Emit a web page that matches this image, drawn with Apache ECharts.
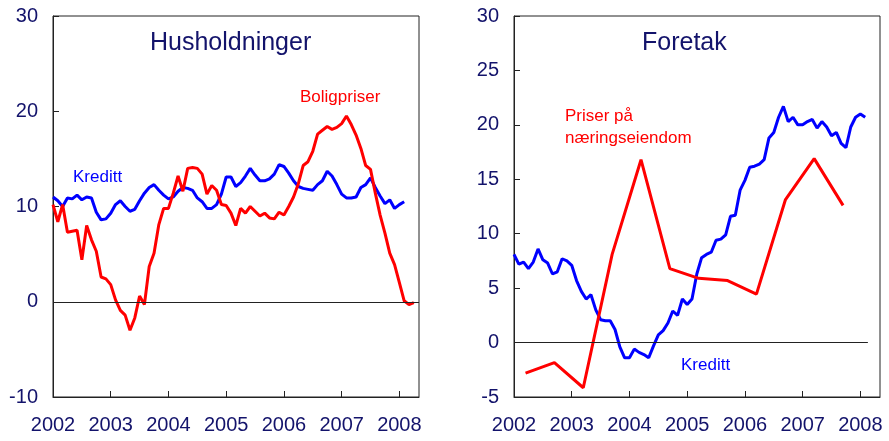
<!DOCTYPE html>
<html>
<head>
<meta charset="utf-8">
<script src="https://cdn.jsdelivr.net/npm/echarts@6.0.0/dist/echarts.min.js"></script>
<style>
  html, body { margin: 0; padding: 0; background: #fff; }
  #chart { width: 889px; height: 441px; }
</style>
</head>
<body>
<div id="chart"></div>
<script>
// monthly series start in January 2002
const startYear = 2002

// Husholdninger: kreditt (blue) and boligpriser (red), 12-month growth, per cent
const kredittHus = [11.0, 10.6, 10.0, 10.9, 10.8, 11.2, 10.7, 11.0, 10.9, 9.4, 8.6, 8.7,
  9.3, 10.2, 10.6, 10.0, 9.5, 9.7, 10.6, 11.4, 12.0, 12.3, 11.7, 11.2,
  10.8, 11.0, 11.6, 12.0, 11.9, 11.7, 10.9, 10.5, 9.8, 9.8, 10.2, 11.3,
  13.1, 13.1, 12.1, 12.5, 13.2, 14.0, 13.3, 12.7, 12.7, 12.9, 13.4, 14.4,
  14.2, 13.5, 12.7, 12.1, 11.9, 11.8, 11.7, 12.3, 12.7, 13.7, 13.2, 12.3,
  11.3, 10.9, 10.9, 11.0, 12.0, 12.3, 13.0, 12.0, 11.1, 10.3, 10.7, 9.8,
  10.2, 10.5]
const boligpriser = [10.2, 8.4, 10.2, 7.3, 7.4, 7.5, 4.4, 8.0, 6.5, 5.3, 2.6, 2.4,
  1.8, 0.2, -0.9, -1.4, -3.0, -1.7, 0.6, -0.3, 3.7, 5.1, 8.1, 9.8,
  9.8, 11.4, 13.2, 11.6, 14.0, 14.1, 14.0, 13.4, 11.3, 12.2, 11.7, 10.2,
  10.1, 9.3, 8.0, 9.8, 9.3, 10.0, 9.5, 9.0, 9.3, 8.8, 8.7, 9.4,
  9.1, 10.0, 11.0, 12.4, 14.3, 14.7, 15.8, 17.6, 18.0, 18.4, 18.1, 18.3,
  18.7, 19.5, 18.6, 17.5, 16.1, 14.3, 13.9, 11.4, 9.1, 7.2, 5.1, 3.9,
  2.0, 0.1, -0.3, -0.1]

// Foretak: kreditt (monthly) and priser på næringseiendom (half-yearly)
const kredittForetak = [8.1, 7.2, 7.4, 6.8, 7.4, 8.6, 7.6, 7.3, 6.3, 6.5, 7.7, 7.5,
  7.1, 5.7, 4.7, 4.0, 4.4, 3.0, 2.1, 2.0, 2.0, 1.2, -0.4, -1.4,
  -1.4, -0.6, -0.9, -1.1, -1.4, -0.3, 0.7, 1.1, 1.8, 2.9, 2.5, 4.0,
  3.5, 4.0, 6.3, 7.8, 8.1, 8.3, 9.4, 9.5, 9.9, 11.6, 11.7, 14.0,
  14.9, 16.1, 16.2, 16.4, 16.8, 18.8, 19.3, 20.7, 21.7, 20.3, 20.7, 20.0,
  20.0, 20.3, 20.5, 19.7, 20.3, 19.8, 19.0, 19.3, 18.3, 17.9, 19.8, 20.7,
  21.0, 20.7]
const eiendomPeriods = [2002.2, 2002.7, 2003.2, 2003.7, 2004.2, 2004.7,
  2005.2, 2005.7, 2006.2, 2006.7, 2007.2, 2007.7]
const eiendomPriser = [-2.8, -1.85, -4.15, 8.1, 16.8, 6.8, 5.9, 5.7, 4.45, 13.1, 16.9, 12.6]

const navy = '#13136b'
const font = '"Liberation Sans", Arial, sans-serif'

function monthly(values) {
  return values.map((v, i) => [startYear + i / 12, v])
}

function xAxisFor(gridIndex) {
  return {
    type: 'value', gridIndex: gridIndex,
    min: 2002, max: 2008.34, interval: 1,
    axisLine: { show: true, onZero: false, lineStyle: { color: '#222', width: 1 } },
    axisTick: { inside: true, length: 6, lineStyle: { color: '#222' } },
    axisLabel: {
      color: navy, fontSize: 20, fontFamily: font, margin: 18,
      showMaxLabel: false,
      formatter: v => (Math.abs(v - Math.round(v)) < 1e-6 ? String(Math.round(v)) : '')
    },
    splitLine: { show: false }
  }
}

function yAxisFor(gridIndex, min, max, step) {
  return {
    type: 'value', gridIndex: gridIndex,
    min: min, max: max, interval: step,
    axisLine: { show: true, onZero: false, lineStyle: { color: '#222', width: 1 } },
    axisTick: { inside: true, length: 6, lineStyle: { color: '#222' } },
    axisLabel: { color: navy, fontSize: 20, fontFamily: font, margin: 15 },
    splitLine: { show: false }
  }
}

function line(name, data, color, idx) {
  return {
    name: name, type: 'line', xAxisIndex: idx, yAxisIndex: idx,
    data: data, symbol: 'none', smooth: false, silent: true,
    lineStyle: { color: color, width: 3 },
    animation: false
  }
}

const chart = echarts.init(document.getElementById('chart'), null, { renderer: 'canvas' })

const zeroStyle = { color: '#222', width: 1, type: 'solid' }

const kredittHusSeries = line('Kreditt', monthly(kredittHus), '#0000ff', 0)
const boligSeries = line('Boligpriser', monthly(boligpriser), '#ff0000', 0)
boligSeries.markLine = {
  silent: true, symbol: 'none', label: { show: false }, lineStyle: zeroStyle,
  data: [{ yAxis: 0 }]
}
const kredittForSeries = line('Kreditt', monthly(kredittForetak), '#0000ff', 1)
kredittForSeries.markLine = {
  silent: true, symbol: 'none', label: { show: false }, lineStyle: zeroStyle,
  data: [[{ coord: [2002, 0] }, { coord: [2008.13, 0] }]]
}
const eiendomSeries = line('Priser på næringseiendom',
  eiendomPeriods.map((p, i) => [p, eiendomPriser[i]]), '#ff0000', 1)

chart.setOption({
  animation: false,
  backgroundColor: '#fff',
  grid: [
    { left: 53, top: 16, width: 366, height: 381, containLabel: false, outerBoundsMode: 'none',
      show: true, borderColor: '#222', borderWidth: 1 },
    { left: 514, top: 16, width: 366, height: 381, containLabel: false, outerBoundsMode: 'none',
      show: true, borderColor: '#222', borderWidth: 1 }
  ],
  xAxis: [xAxisFor(0), xAxisFor(1)],
  yAxis: [yAxisFor(0, -10, 30, 10), yAxisFor(1, -5, 30, 5)],
  series: [kredittHusSeries, boligSeries, kredittForSeries, eiendomSeries],
  graphic: [
    { type: 'text', left: 150, top: 31, silent: true,
      style: { text: 'Husholdninger', fill: navy, font: '25px ' + font } },
    { type: 'text', left: 73, top: 169, silent: true,
      style: { text: 'Kreditt', fill: '#0000ff', font: '17px ' + font } },
    { type: 'text', left: 300, top: 89, silent: true,
      style: { text: 'Boligpriser', fill: '#ff0000', font: '17px ' + font } },
    { type: 'text', left: 642, top: 31, silent: true,
      style: { text: 'Foretak', fill: navy, font: '25px ' + font } },
    { type: 'text', left: 565, top: 105, silent: true,
      style: { text: 'Priser på\nnæringseiendom', fill: '#ff0000', font: '17px ' + font, lineHeight: 22 } },
    { type: 'text', left: 681, top: 357, silent: true,
      style: { text: 'Kreditt', fill: '#0000ff', font: '17px ' + font } }
  ]
})
</script>
</body>
</html>
